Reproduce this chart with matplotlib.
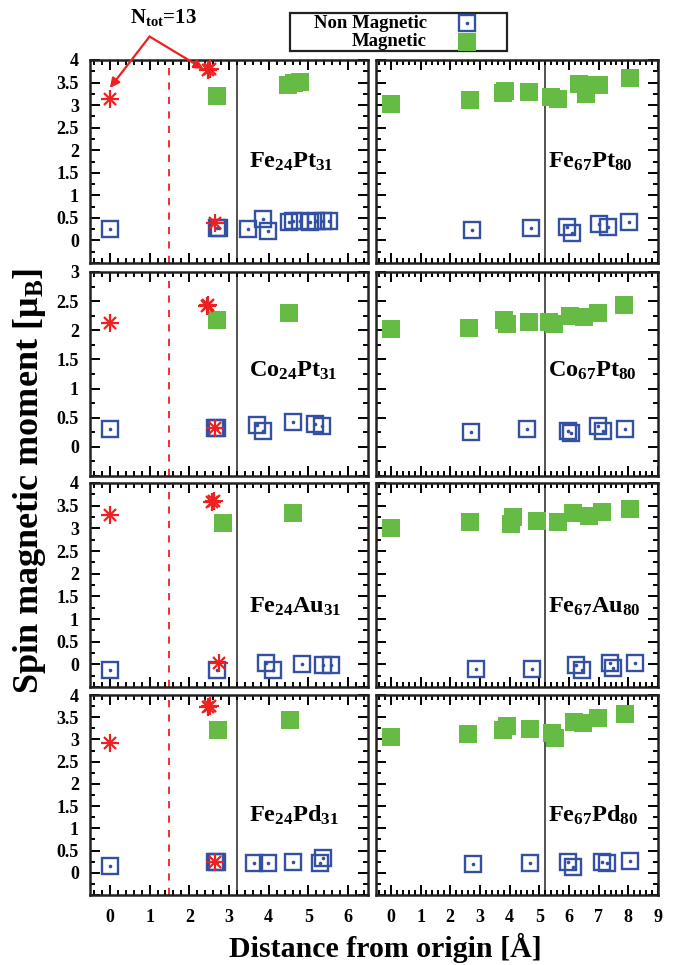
import matplotlib
matplotlib.use("Agg")
import matplotlib.pyplot as plt
from matplotlib.lines import Line2D
from matplotlib.patches import Rectangle
from matplotlib.ticker import MultipleLocator, FixedLocator

plt.rcParams['font.family'] = ['Liberation Serif', 'DejaVu Serif']
plt.rcParams['font.weight'] = 'bold'
plt.rcParams['mathtext.fontset'] = 'custom'
plt.rcParams['mathtext.rm'] = 'Liberation Serif:bold'
plt.rcParams['mathtext.it'] = 'Liberation Serif:bold'
plt.rcParams['mathtext.bf'] = 'Liberation Serif:bold'

# ---------------- data ----------------
# Fe24Pt31
fept24_nm_x = [0.0, 2.70, 2.76, 3.49, 3.86, 3.99, 4.50, 4.62, 4.78, 5.04, 5.20, 5.36, 5.52]
fept24_nm_y = [0.26, 0.27, 0.27, 0.26, 0.47, 0.20, 0.40, 0.42, 0.42, 0.41, 0.42, 0.43, 0.43]
fept24_m_x = [2.70, 4.48, 4.64, 4.80]
fept24_m_y = [3.20, 3.45, 3.48, 3.51]
fept24_s_x = [0.0, 2.48, 2.51, 2.64]
fept24_s_y = [3.13, 3.77, 3.79, 0.38]
# Fe67Pt80
fept67_nm_x = [2.73, 4.71, 5.93, 6.09, 7.00, 7.30, 8.01]
fept67_nm_y = [0.24, 0.27, 0.29, 0.17, 0.36, 0.29, 0.40]
fept67_m_x = [0.0, 2.66, 3.77, 3.84, 4.65, 5.39, 5.62, 6.33, 6.57, 6.73, 7.00, 8.05]
fept67_m_y = [3.02, 3.11, 3.27, 3.31, 3.29, 3.17, 3.13, 3.47, 3.24, 3.44, 3.44, 3.60]
# Co24Pt31
copt24_nm_x = [0.0, 2.64, 2.70, 3.70, 3.86, 4.60, 5.16, 5.33]
copt24_nm_y = [0.30, 0.33, 0.33, 0.38, 0.28, 0.42, 0.39, 0.35]
copt24_m_x = [2.69, 4.51]
copt24_m_y = [2.18, 2.30]
copt24_s_x = [0.0, 2.44, 2.47, 2.64]
copt24_s_y = [2.13, 2.42, 2.44, 0.33]
# Co67Pt80
copt67_nm_x = [2.69, 4.60, 5.96, 6.06, 6.97, 7.14, 7.88]
copt67_nm_y = [0.26, 0.31, 0.28, 0.23, 0.36, 0.28, 0.31]
copt67_m_x = [0.0, 2.63, 3.81, 3.90, 4.64, 5.32, 5.49, 6.03, 6.50, 6.97, 7.85]
copt67_m_y = [2.02, 2.04, 2.18, 2.10, 2.15, 2.15, 2.11, 2.25, 2.22, 2.30, 2.43]
# Fe24Au31
feau24_nm_x = [0.0, 2.69, 3.93, 4.12, 4.83, 5.37, 5.58]
feau24_nm_y = [-0.13, -0.13, 0.02, -0.13, 0.0, -0.02, -0.02]
feau24_m_x = [2.85, 4.62]
feau24_m_y = [3.11, 3.33]
feau24_s_x = [0.0, 2.58, 2.61, 2.75]
feau24_s_y = [3.29, 3.59, 3.61, 0.02]
# Fe67Au80
feau67_nm_x = [2.86, 4.75, 6.23, 6.43, 7.37, 7.47, 8.22]
feau67_nm_y = [-0.10, -0.10, -0.02, -0.13, 0.02, -0.07, 0.03]
feau67_m_x = [0.0, 2.66, 4.04, 4.10, 4.92, 5.62, 6.13, 6.67, 7.10, 8.05]
feau67_m_y = [3.00, 3.13, 3.09, 3.24, 3.16, 3.13, 3.33, 3.27, 3.36, 3.42]
# Fe24Pd31
fepd24_nm_x = [0.0, 2.64, 2.70, 3.63, 3.99, 4.62, 5.29, 5.37]
fepd24_nm_y = [0.16, 0.24, 0.24, 0.22, 0.22, 0.24, 0.22, 0.33]
fepd24_m_x = [2.73, 4.53]
fepd24_m_y = [3.21, 3.44]
fepd24_s_x = [0.0, 2.48, 2.51, 2.64]
fepd24_s_y = [2.92, 3.74, 3.76, 0.24]
# Fe67Pd80
fepd67_nm_x = [2.76, 4.68, 5.96, 6.13, 7.10, 7.27, 8.05]
fepd67_nm_y = [0.20, 0.22, 0.25, 0.13, 0.25, 0.22, 0.27]
fepd67_m_x = [0.0, 2.60, 3.77, 3.90, 4.68, 5.42, 5.52, 6.16, 6.46, 6.97, 7.88]
fepd67_m_y = [3.06, 3.12, 3.21, 3.30, 3.24, 3.15, 3.03, 3.39, 3.37, 3.48, 3.57]

labels_left = ["Fe$_{24}$Pt$_{31}$", "Co$_{24}$Pt$_{31}$", "Fe$_{24}$Au$_{31}$", "Fe$_{24}$Pd$_{31}$"]
labels_right = ["Fe$_{67}$Pt$_{80}$", "Co$_{67}$Pt$_{80}$", "Fe$_{67}$Au$_{80}$", "Fe$_{67}$Pd$_{80}$"]
ymax_rows = [4, 3, 4, 4]
label_y_rows = [1.75, 1.30, 1.27, 1.30]
left_shell_line = 3.2
right_shell_line = 5.2
core_line = 1.5
x_ticks_left = [0, 1, 2, 3, 4, 5, 6]
x_ticks_right = [0, 1, 2, 3, 4, 5, 6, 7, 8, 9]

left_data = [
    (fept24_nm_x, fept24_nm_y, fept24_m_x, fept24_m_y, fept24_s_x, fept24_s_y),
    (copt24_nm_x, copt24_nm_y, copt24_m_x, copt24_m_y, copt24_s_x, copt24_s_y),
    (feau24_nm_x, feau24_nm_y, feau24_m_x, feau24_m_y, feau24_s_x, feau24_s_y),
    (fepd24_nm_x, fepd24_nm_y, fepd24_m_x, fepd24_m_y, fepd24_s_x, fepd24_s_y),
]
right_data = [
    (fept67_nm_x, fept67_nm_y, fept67_m_x, fept67_m_y),
    (copt67_nm_x, copt67_nm_y, copt67_m_x, copt67_m_y),
    (feau67_nm_x, feau67_nm_y, feau67_m_x, feau67_m_y),
    (fepd67_nm_x, fepd67_nm_y, fepd67_m_x, fepd67_m_y),
]

BLUE = '#3350a3'
GREEN = '#66bb44'
RED = '#ee2020'
W, H = 675, 965

fig = plt.figure(figsize=(6.75, 9.65), dpi=100)

rows_px = [(60, 263), (272, 476), (483, 687), (695, 895)]
left_px = (90, 368)
right_px = (376, 658)


def add_ax(xp, yp):
    return fig.add_axes([xp[0] / W, 1 - yp[1] / H, (xp[1] - xp[0]) / W, (yp[1] - yp[0]) / H])


def style(ax, ymax, show_y, show_x, xt):
    ax.set_ylim(-0.5, ymax)
    ax.yaxis.set_major_locator(FixedLocator([v * 0.5 for v in range(-1, int(ymax * 2) + 1)]))
    ax.yaxis.set_minor_locator(MultipleLocator(0.25))
    ax.xaxis.set_major_locator(FixedLocator(xt))
    ax.xaxis.set_minor_locator(MultipleLocator(0.2))
    ax.tick_params(which='both', direction='in', top=True, right=True, width=1.4)
    ax.tick_params(which='major', length=7)
    ax.tick_params(which='minor', length=3.5)
    ax.tick_params(axis='y', pad=8, labelsize=13)
    ax.tick_params(axis='x', pad=10, labelsize=13)
    for s in ax.spines.values():
        s.set_linewidth(1.8)
        s.set_color('#222222')
    if show_y:
        ax.set_yticklabels(['' if v < 0 else ('%g' % v) for v in ax.get_yticks()])
    else:
        ax.set_yticklabels([])
    if not show_x:
        ax.set_xticklabels([])


def plot_nm(ax, x, y):
    ax.plot(x, y, ls='none', marker='s', ms=11, mfc='none', mec=BLUE, mew=1.7, zorder=3)
    ax.plot(x, y, ls='none', marker='o', ms=1.6, mfc=BLUE, mec=BLUE, zorder=3)


def plot_m(ax, x, y):
    ax.plot(x, y, ls='none', marker='s', ms=12.5, mfc=GREEN, mec=GREEN, mew=0, zorder=4)


def plot_star(ax, x, y):
    ax.plot(x, y, ls='none', marker='+', ms=13, mec=RED, mew=1.6, zorder=5)
    ax.plot(x, y, ls='none', marker='x', ms=9.2, mec=RED, mew=1.6, zorder=5)


for i in range(4):
    axl = add_ax(left_px, rows_px[i])
    axl.set_xlim(-0.5, 6.5)
    nmx, nmy, mx, my, sx, sy = left_data[i]
    axl.axvline(left_shell_line, color='#444444', lw=1.3, zorder=1)
    axl.axvline(core_line, color=RED, lw=1.3, ls=(0, (4, 4)), zorder=1)
    plot_nm(axl, nmx, nmy)
    plot_m(axl, mx, my)
    plot_star(axl, sx, sy)
    style(axl, ymax_rows[i], True, i == 3, x_ticks_left)
    axl.text(3.5, label_y_rows[i], labels_left[i], fontsize=17.5, ha='left', va='center')
    if i == 0:
        for tgt in [(0.0, 3.38), (2.36, 3.80)]:
            axl.annotate('', xy=tgt, xytext=(1.0, 4.52), annotation_clip=False,
                         arrowprops=dict(arrowstyle='-|>', color=RED, lw=1.6,
                                         mutation_scale=14, shrinkA=0, shrinkB=0))
        axl.text(1.34, 4.95, "N$_{\\mathrm{tot}}$=13", fontsize=15, ha='center', va='center',
                 clip_on=False)

    axr = add_ax(right_px, rows_px[i])
    axr.set_xlim(-0.5, 9.0)
    nmx, nmy, mx, my = right_data[i]
    axr.axvline(right_shell_line, color='#444444', lw=1.3, zorder=1)
    plot_nm(axr, nmx, nmy)
    plot_m(axr, mx, my)
    style(axr, ymax_rows[i], False, i == 3, x_ticks_right)
    axr.text(5.3, label_y_rows[i], labels_right[i], fontsize=17.5, ha='left', va='center')

# legend (gnuplot style: text right-aligned, marker at right)
fig.add_artist(Rectangle((290 / W, 1 - 51 / H), 217 / W, 38 / H, transform=fig.transFigure,
                         fill=False, edgecolor='#222222', lw=1.6))
fig.text(427 / W, 1 - 23 / H, "Non Magnetic", ha='right', va='center', fontsize=13.5)
fig.text(427 / W, 1 - 42 / H, "Magnetic", ha='right', va='center', fontsize=13.5)
fig.add_artist(Line2D([467 / W], [1 - 23 / H], transform=fig.transFigure, ls='none', marker='s',
                      ms=11, mfc='none', mec=BLUE, mew=1.7))
fig.add_artist(Line2D([467 / W], [1 - 23 / H], transform=fig.transFigure, ls='none', marker='o',
                      ms=1.6, mfc=BLUE, mec=BLUE))
fig.add_artist(Line2D([467 / W], [1 - 42 / H], transform=fig.transFigure, ls='none', marker='s',
                      ms=12.5, mfc=GREEN, mec=GREEN, mew=0))

fig.text(30 / W, 1 - 481 / H, "Spin magnetic moment [\u03bc$_{\\mathrm{B}}$]", rotation=90,
         ha='center', va='center', fontsize=26)
fig.text(385 / W, 1 - 957 / H, "Distance from origin [\u00c5]", ha='center', va='baseline',
         fontsize=21.5)

fig.savefig("out.png", dpi=100)
